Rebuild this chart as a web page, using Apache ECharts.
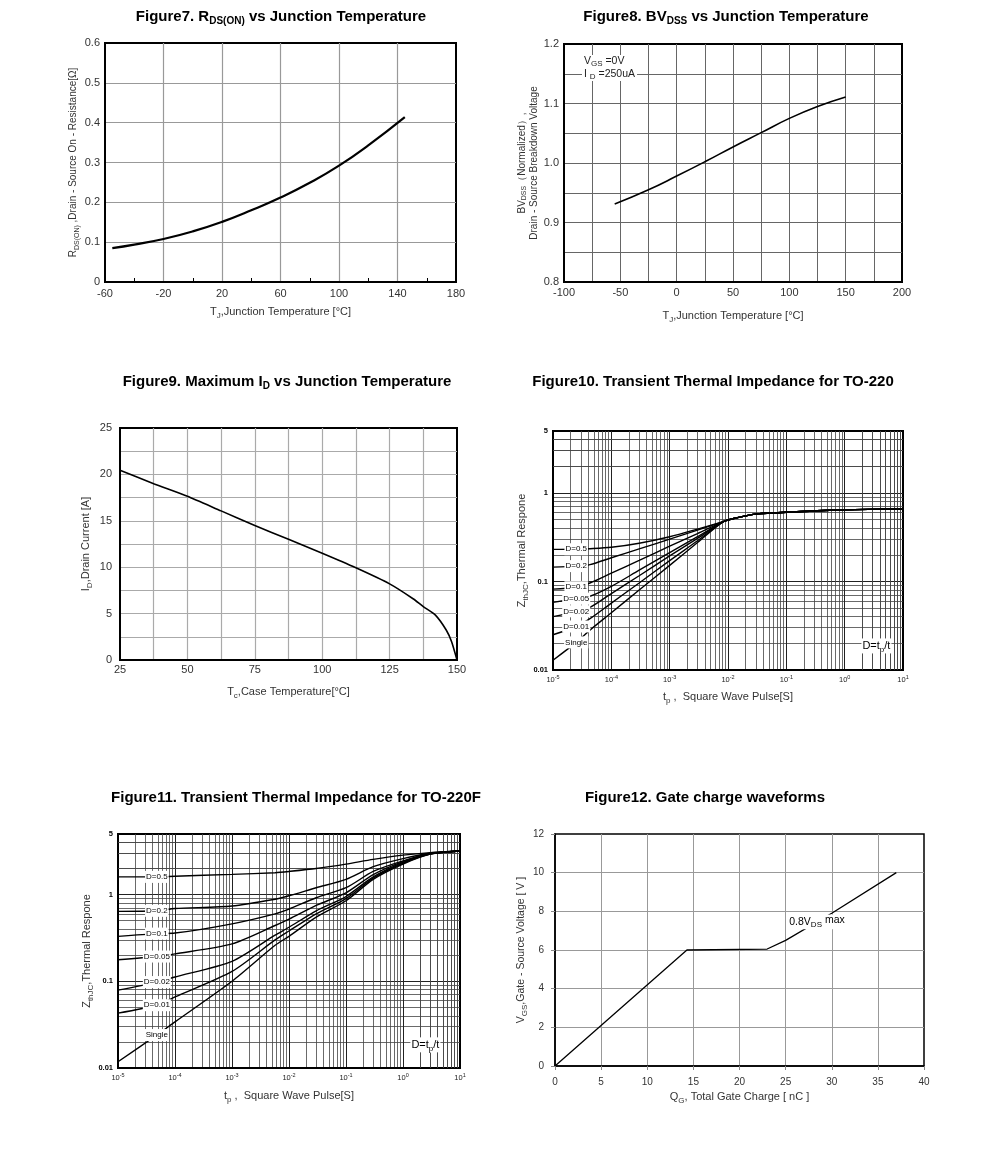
<!DOCTYPE html>
<html><head><meta charset="utf-8">
<script src="https://cdn.jsdelivr.net/npm/echarts@6/dist/echarts.min.js"></script>
<style>html,body{margin:0;padding:0;background:#fff}#c{width:991px;height:1151px}</style>
</head><body><div id="c"></div>
<script>
// ---------------- DATA ----------------
// Figure 7: RDS(on) vs TJ
const fig7Temp = [-55, -40, -20, 0, 20, 40, 60, 80, 100, 120, 145];
const fig7Rds  = [0.085, 0.094, 0.108, 0.127, 0.151, 0.18, 0.212, 0.249, 0.292, 0.343, 0.414];
// Figure 8: BVdss vs TJ
const fig8Temp = [-55, -25, 0, 25, 50, 75, 100, 125, 150];
const fig8Bv   = [0.931, 0.955, 0.978, 1.002, 1.027, 1.051, 1.075, 1.095, 1.111];
// Figure 9: ID vs TC
const fig9Temp = [25, 37.5, 50, 62.5, 75, 87.5, 100, 112.5, 125, 133.7, 137.5, 142, 146, 148, 150];
const fig9Id   = [20.45, 19.0, 17.65, 16.07, 14.5, 13.0, 11.5, 9.93, 8.2, 6.6, 5.75, 4.84, 3.23, 1.97, 0];
// Figure 10: Zth TO-220
const fig10Tp     = [1e-5, 2.5e-5, 4.3e-5, 1e-4, 3e-4, 1e-3, 3e-3, 8.3e-3];
const fig10D05    = [0.23, 0.231, 0.234, 0.243, 0.27, 0.32, 0.39, 0.474];
const fig10D02    = [0.145, 0.149, 0.155, 0.185, 0.233, 0.30, 0.38, 0.474];
const fig10D01    = [0.082, 0.086, 0.096, 0.124, 0.173, 0.25, 0.347, 0.474];
const fig10D005   = [0.058, 0.064, 0.068, 0.088, 0.134, 0.212, 0.32, 0.474];
const fig10D002   = [0.040, 0.046, 0.051, 0.073, 0.116, 0.194, 0.306, 0.474];
const fig10D001   = [0.025, 0.031, 0.038, 0.057, 0.096, 0.172, 0.288, 0.474];
const fig10Single = [0.0129, 0.0205, 0.0282, 0.0443, 0.08, 0.152, 0.275, 0.474];
const fig10TailTp = [1.2e-2, 2e-2, 3.2e-2, 1e-1, 1, 10];
const fig10Tail   = [0.51, 0.55, 0.58, 0.605, 0.645, 0.66];
// Figure 11: Zth TO-220F
const fig11Tp     = [1e-5, 4.8e-5, 1e-4, 1e-3, 5.7e-3, 1e-2, 3e-2, 1e-1, 3e-1, 1, 3, 10];
const fig11D05    = [1.6, 1.6, 1.63, 1.71, 1.79, 1.85, 2.0, 2.25, 2.55, 2.85, 3.05, 3.18];
const fig11D02    = [0.64, 0.65, 0.69, 0.74, 0.885, 0.97, 1.2, 1.5, 2.1, 2.6, 3.0, 3.18];
const fig11D01    = [0.33, 0.355, 0.36, 0.46, 0.6, 0.68, 0.92, 1.2, 1.85, 2.45, 2.97, 3.18];
const fig11D005   = [0.177, 0.193, 0.207, 0.27, 0.44, 0.52, 0.75, 1.05, 1.7, 2.4, 2.96, 3.18];
const fig11D002   = [0.079, 0.098, 0.112, 0.17, 0.34, 0.42, 0.65, 0.95, 1.6, 2.35, 2.95, 3.18];
const fig11D001   = [0.043, 0.053, 0.066, 0.13, 0.30, 0.38, 0.6, 0.9, 1.55, 2.3, 2.94, 3.18];
const fig11Single = [0.0118, 0.024, 0.034, 0.1, 0.26, 0.33, 0.55, 0.85, 1.5, 2.25, 2.93, 3.18];
const dutyLabels  = ['D=0.5', 'D=0.2', 'D=0.1', 'D=0.05', 'D=0.02', 'D=0.01', 'Single'];
// Figure 12: gate charge
const fig12Qg  = [0, 14.3, 23, 25, 30, 37];
const fig12Vgs = [0, 6, 6.05, 6.5, 7.9, 10];
// tick labels
const logYLabels = [0.01, 0.1, 1, 5];

// ---------------- HELPERS ----------------
const FONT = '"Liberation Sans", Arial, Helvetica, sans-serif';
const zip = (xs, ys) => xs.map((x, i) => [x, ys[i]]);

function nameStyle(size) {
  return {fontSize: size, color: '#333', fontFamily: FONT, lineHeight: size + 5,
    rich: {s: {fontSize: Math.round(size * 0.72), color: '#333', fontFamily: FONT, verticalAlign: 'bottom', lineHeight: Math.round(size * 0.72)}}};
}
function gTitle(x, y, text) {
  return {type: 'text', x: x, y: y, silent: true, z: 100,
    style: {text: text, fontSize: 15, fontWeight: 'bold', fontFamily: FONT, fill: '#000', align: 'center', verticalAlign: 'middle', lineHeight: 19,
      rich: {s: {fontSize: 10, fontWeight: 'bold', fontFamily: FONT, fill: '#000', verticalAlign: 'bottom', lineHeight: 10}}}};
}
function tag(coord, text, size) {
  return {symbol: 'circle', symbolSize: 1, silent: true, itemStyle: {color: 'rgba(0,0,0,0)'},
    label: {show: true, position: 'inside', formatter: text, color: '#000', fontSize: size, fontFamily: FONT,
      backgroundColor: '#fff', padding: [0, 1], lineHeight: size + 4,
      rich: {s: {fontSize: Math.round(size * 0.72), color: '#000', fontFamily: FONT, verticalAlign: 'bottom', lineHeight: Math.round(size * 0.72), backgroundColor: '#fff'},
             p: {fontSize: size, color: '#000', fontFamily: FONT, verticalAlign: 'top', lineHeight: size, backgroundColor: '#fff'}}},
    data: [{coord: coord}]};
}
function linAxis(gi, min, max, interval, opts) {
  const o = {gridIndex: gi, type: 'value', min: min, max: max, interval: interval,
    axisLine: {show: true, onZero: false, lineStyle: {color: '#000', width: 2}},
    axisTick: {show: false, inside: true},
    axisLabel: {fontSize: 11, color: '#333', fontFamily: FONT, margin: 5},
    splitLine: {show: true, showMinLine: false, showMaxLine: false, lineStyle: {color: opts.grid, width: opts.gw || 1}},
    nameLocation: 'middle'};
  if (opts.minor) {
    o.minorTick = {show: false, splitNumber: opts.minor};
    o.minorSplitLine = {show: true, lineStyle: {color: opts.grid, width: opts.gw || 1}};
  }
  return Object.assign(o, opts.extra || {});
}
function logAxis(gi, min, max, isY, extra) {
  const o = {gridIndex: gi, type: 'log', logBase: 10, min: min, max: max,
    axisLine: {show: true, onZero: false, lineStyle: {color: '#000', width: 2}},
    axisTick: {show: false},
    minorTick: {show: false, splitNumber: 9},
    splitLine: {show: true, showMinLine: false, showMaxLine: false, lineStyle: {color: '#222', width: 1}},
    minorSplitLine: {show: true, lineStyle: {color: '#444', width: 0.8}},
    nameLocation: 'middle'};
  if (isY) {
    o.axisLabel = {fontSize: 7.5, fontWeight: 'bold', color: '#000', fontFamily: FONT, margin: 5,
      customValues: logYLabels, formatter: v => String(+v.toPrecision(3))};
  } else {
    o.axisLabel = {fontSize: 7.5, color: '#222', fontFamily: FONT, margin: 4, lineHeight: 11,
      formatter: v => '10{s|' + Math.round(Math.log10(v)) + '}',
      rich: {s: {fontSize: 5.5, color: '#222', fontFamily: FONT, verticalAlign: 'top', lineHeight: 5.5}}};
  }
  return Object.assign(o, extra || {});
}
function extraGrid() {
  const xs = [2, 3, 4, 5, 6, 7, 8, 9].map(v => ({xAxis: v}));
  const ys = [2, 3, 4].map(v => ({yAxis: v}));
  return {silent: true, z: 1, symbol: ['none', 'none'], label: {show: false}, animation: false,
    lineStyle: {color: '#444', width: 0.8, type: 'solid'}, data: xs.concat(ys)};
}

// ---------------- GRIDS ----------------
const grids = [
  {left: 105, top: 43, width: 351, height: 239},
  {left: 564, top: 44, width: 338, height: 238},
  {left: 120, top: 428, width: 337, height: 232},
  {left: 553, top: 431, width: 350, height: 239},
  {left: 118, top: 834, width: 342, height: 234},
  {left: 555, top: 834, width: 369, height: 232}
].map((g, i) => Object.assign(g, {show: true, borderColor: '#000', borderWidth: i === 5 ? 1.5 : 2, containLabel: false, outerBoundsMode: 'none'}));

// ---------------- AXES ----------------
const xAxis = [
  linAxis(0, -60, 180, 40, {grid: '#999', gw: 1.2, extra: {
    minorTick: {show: true, splitNumber: 2, length: 4, lineStyle: {color: '#000', width: 1}},
    axisLabel: {fontSize: 11, color: '#333', fontFamily: FONT, margin: 6},
    name: 'T{s|J},Junction Temperature [°C]', nameGap: 22, nameTextStyle: nameStyle(11)}}),
  linAxis(1, -100, 200, 50, {grid: '#666', minor: 2, extra: {
    name: 'T{s|J},Junction Temperature [°C]', nameGap: 26, nameTextStyle: nameStyle(11)}}),
  linAxis(2, 25, 150, 25, {grid: '#aaa', gw: 1.2, minor: 2, extra: {
    axisLabel: {fontSize: 11, color: '#333', fontFamily: FONT, margin: 4},
    name: 'T{s|c},Case Temperature[°C]', nameGap: 24, nameTextStyle: nameStyle(11)}}),
  logAxis(3, 1e-5, 10, false, {name: 't{s|p} ,  Square Wave Pulse[S]', nameGap: 19, nameTextStyle: nameStyle(11)}),
  logAxis(4, 1e-5, 10, false, {name: 't{s|p} ,  Square Wave Pulse[S]', nameGap: 20, nameTextStyle: nameStyle(11)}),
  linAxis(5, 0, 40, 5, {grid: '#999', extra: {
    axisLine: {show: true, onZero: false, lineStyle: {color: '#000', width: 1.5}},
    axisTick: {show: true, length: 4, lineStyle: {color: '#888'}},
    axisLabel: {fontSize: 10, color: '#333', fontFamily: FONT, margin: 11},
    name: 'Q{s|G}, Total Gate Charge [ nC ]', nameGap: 23, nameTextStyle: nameStyle(11)}})
];
const yAxis = [
  linAxis(0, 0, 0.6, 0.1, {grid: '#999', gw: 1.2, extra: {
    axisLabel: {fontSize: 11, color: '#333', fontFamily: FONT, margin: 5, formatter: v => v === 0 ? '0' : v.toFixed(1)},
    name: 'R{s|DS(ON)} ,Drain - Source On - Resistance[Ω]', nameGap: 24, nameTextStyle: nameStyle(10)}}),
  linAxis(1, 0.8, 1.2, 0.1, {grid: '#666', minor: 2, extra: {
    axisLabel: {fontSize: 11, color: '#333', fontFamily: FONT, margin: 5, formatter: v => v.toFixed(1)},
    name: 'BV{s|DSS}（Normalized）,\nDrain - Source Breakdown Voltage', nameGap: 24, nameTextStyle: Object.assign(nameStyle(10), {lineHeight: 12})}}),
  linAxis(2, 0, 25, 5, {grid: '#aaa', gw: 1.2, minor: 2, extra: {
    axisLabel: {fontSize: 11, color: '#333', fontFamily: FONT, margin: 8},
    name: 'I{s|D},Drain Current [A]', nameGap: 26, nameTextStyle: nameStyle(11)}}),
  logAxis(3, 0.01, 5, true, {name: 'Z{s|thJC},Thermal Respone', nameGap: 22, nameTextStyle: nameStyle(11)}),
  logAxis(4, 0.01, 5, true, {name: 'Z{s|thJC},Thermal Respone', nameGap: 22, nameTextStyle: nameStyle(11)}),
  linAxis(5, 0, 12, 2, {grid: '#999', extra: {
    axisLine: {show: true, onZero: false, lineStyle: {color: '#000', width: 1.5}},
    axisTick: {show: true, length: 4, lineStyle: {color: '#888'}},
    axisLabel: {fontSize: 10, color: '#333', fontFamily: FONT, margin: 11},
    name: 'V{s|GS},Gate - Source Voltage [ V ]', nameGap: 25, nameTextStyle: nameStyle(10.5)}})
];

// ---------------- SERIES ----------------
const blackLine = w => ({color: '#000', width: w});
const series = [
  {type: 'line', xAxisIndex: 0, yAxisIndex: 0, data: zip(fig7Temp, fig7Rds), smooth: true, showSymbol: false, lineStyle: blackLine(2.2)},
  {type: 'line', xAxisIndex: 1, yAxisIndex: 1, data: zip(fig8Temp, fig8Bv), smooth: true, showSymbol: false, lineStyle: blackLine(1.6)},
  {type: 'line', xAxisIndex: 2, yAxisIndex: 2, data: zip(fig9Temp, fig9Id), smooth: 0.2, showSymbol: false, lineStyle: blackLine(1.6)},
  {type: 'line', xAxisIndex: 5, yAxisIndex: 5, data: zip(fig12Qg, fig12Vgs), smooth: false, showSymbol: false, lineStyle: blackLine(1.3),
    markPoint: tag([28.4, 7.45], '0.8V{s|DS} {p|max}', 10.5)}
];
const fig10Curves = [fig10D05, fig10D02, fig10D01, fig10D005, fig10D002, fig10D001, fig10Single];
fig10Curves.forEach((ys, i) => {
  const s = {type: 'line', xAxisIndex: 3, yAxisIndex: 3, data: zip(fig10Tp, ys).concat(zip(fig10TailTp, fig10Tail)),
    smooth: 0.3, showSymbol: false, lineStyle: blackLine(1.4), markPoint: tag([fig10Tp[1], ys[1]], dutyLabels[i], 8)};
  if (i === 0) s.markLine = extraGrid();
  series.push(s);
});
series.push({type: 'line', xAxisIndex: 3, yAxisIndex: 3, data: [], markPoint: tag([3.5, 0.0187], 'D=t{s|p}/t', 11)});
const fig11Curves = [fig11D05, fig11D02, fig11D01, fig11D005, fig11D002, fig11D001, fig11Single];
fig11Curves.forEach((ys, i) => {
  const s = {type: 'line', xAxisIndex: 4, yAxisIndex: 4, data: zip(fig11Tp, ys),
    smooth: 0.25, showSymbol: false, lineStyle: blackLine(1.4), markPoint: tag([fig11Tp[1], ys[1]], dutyLabels[i], 8)};
  if (i === 0) s.markLine = extraGrid();
  series.push(s);
});
series.push({type: 'line', xAxisIndex: 4, yAxisIndex: 4, data: [], markPoint: tag([2.47, 0.0185], 'D=t{s|p}/t', 11)});

// ---------------- GRAPHICS (titles / notes) ----------------
const graphic = [
  gTitle(281, 17, 'Figure7. R{s|DS(ON)} vs Junction Temperature'),
  gTitle(726, 17, 'Figure8. BV{s|DSS} vs Junction Temperature'),
  gTitle(287, 382, 'Figure9. Maximum I{s|D} vs Junction Temperature'),
  gTitle(713, 382, 'Figure10. Transient Thermal Impedance for TO-220'),
  gTitle(296, 798, 'Figure11. Transient Thermal Impedance for TO-220F'),
  gTitle(705, 798, 'Figure12. Gate charge waveforms'),
  {type: 'text', x: 582, y: 55, z: 100, silent: true,
    style: {text: 'V{s|GS} =0V\nI {s|D} =250uA', fontSize: 10.5, fontFamily: FONT, fill: '#222', lineHeight: 13,
      backgroundColor: '#fff', padding: [0, 2],
      rich: {s: {fontSize: 8, fontFamily: FONT, fill: '#222', verticalAlign: 'bottom', lineHeight: 10}}}}
];

const chart = echarts.init(document.getElementById('c'), null, {renderer: 'canvas'});
chart.setOption({
  backgroundColor: '#fff',
  animation: false,
  grid: grids,
  xAxis: xAxis,
  yAxis: yAxis,
  series: series,
  graphic: graphic
});
</script></body></html>
